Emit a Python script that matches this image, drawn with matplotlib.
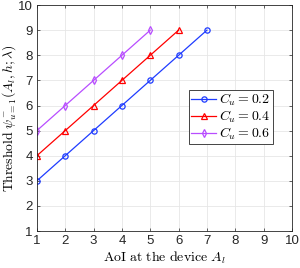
import matplotlib
matplotlib.use("Agg")
import matplotlib.pyplot as plt

plt.rcParams['mathtext.fontset'] = 'cm'

# data
x_02 = [1, 2, 3, 4, 5, 6, 7]
y_02 = [3, 4, 5, 6, 7, 8, 9]
x_04 = [1, 2, 3, 4, 5, 6]
y_04 = [4, 5, 6, 7, 8, 9]
x_06 = [1, 2, 3, 4, 5]
y_06 = [5, 6, 7, 8, 9]
ticks = list(range(1, 11))

fig = plt.figure(figsize=(3.0, 2.68), dpi=100)
ax = fig.add_axes([0.123, 0.138, 0.850, 0.843])

ax.plot(x_02, y_02, color='#1f3cff', marker='o', markersize=3.8, markerfacecolor='none',
        markeredgewidth=0.9, linewidth=0.9, label=r'$C_u = 0.2$')
ax.plot(x_04, y_04, color='#ff0000', marker='^', markersize=4, markerfacecolor='none',
        markeredgewidth=0.9, linewidth=0.9, label=r'$C_u = 0.4$')
ax.plot(x_06, y_06, color='#b84dff', marker='d', markersize=4, markerfacecolor='none',
        markeredgewidth=0.9, linewidth=0.9, label=r'$C_u = 0.6$')

ax.set_xlim(1, 10)
ax.set_ylim(1, 10)
ax.set_xticks(ticks)
ax.set_yticks(ticks)
ax.tick_params(direction='in', length=2.5, width=0.5, labelsize=9.5, top=True, right=True,
               colors='#262626', pad=3)
ax.grid(True, color='#e6e6e6', linewidth=0.6)
ax.set_axisbelow(True)
for s in ax.spines.values():
    s.set_color('#262626')
    s.set_linewidth(0.6)

ax.set_xlabel(r'$\mathrm{AoI\ at\ the\ device}\ A_l$', fontsize=10, labelpad=2)
ax.set_ylabel(r'$\mathrm{Threshold}\ \psi^{-}_{u=1}(A_l, h; \lambda)$', fontsize=9.8,
              labelpad=0)
for lbl in ax.get_xticklabels() + ax.get_yticklabels():
    lbl.set_family('Liberation Sans')

leg = ax.legend(loc='upper left', bbox_to_anchor=(0.598, 0.625), fontsize=10,
                frameon=True, fancybox=False, edgecolor='#262626', framealpha=1,
                handlelength=1.8, handletextpad=0.2, borderpad=0.15, labelspacing=0.05,
                borderaxespad=0)
leg.get_frame().set_linewidth(0.6)

fig.savefig('out.png', dpi=100)
